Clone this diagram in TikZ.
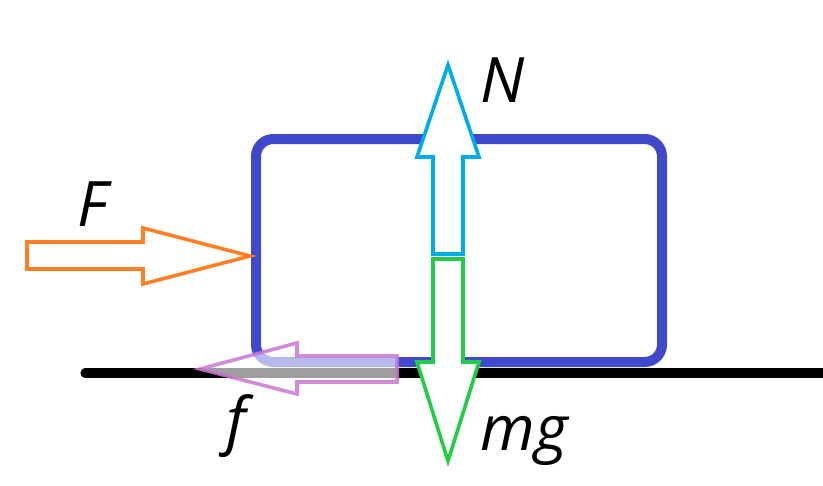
\documentclass[tikz,border=0pt]{standalone}
\usepackage{fontspec}
\setmainfont{Open Sans}
\begin{document}
\begin{tikzpicture}[x=0.75pt,y=-0.75pt,
  boxblue/.style={draw=blockblue,line width=7.5pt,rounded corners=13pt},
  ground/.style={draw=black,line width=6.8pt,line cap=round},
  forcearrow/.style={line width=2.7pt,line join=miter,fill=white},
  lbl/.style={font=\fontsize{47}{50}\selectfont\itshape,anchor=base,inner sep=0pt}]
\definecolor{blockblue}{RGB}{64,72,204}
\definecolor{forange}{RGB}{255,128,36}
\definecolor{ncyan}{RGB}{0,170,238}
\definecolor{mggreen}{RGB}{34,204,68}
\definecolor{fpink}{RGB}{204,119,208}
\useasboundingbox (0,0) rectangle (823,485);
% ground
\draw[ground] (85,373) -- (830,373);
% block
\draw[boxblue] (256,139) rectangle (662,362);
% F arrow
\draw[forcearrow,draw=forange] (27,242) -- (143,242) -- (143,228) -- (250,256) -- (143,284) -- (143,269) -- (27,269) -- cycle;
% N arrow
\draw[forcearrow,draw=ncyan] (433,254) -- (433,157) -- (417,157) -- (448,65) -- (479,157) -- (463,157) -- (463,254) -- cycle;
% mg arrow
\draw[forcearrow,draw=mggreen] (433,259) -- (463,259) -- (463,362) -- (479,362) -- (448,461) -- (417,362) -- (433,362) -- cycle;
% f arrow
\draw[forcearrow,draw=fpink,draw opacity=0.85,fill opacity=0.62] (397,356) -- (297,356) -- (297,343) -- (200,369) -- (297,394) -- (297,382) -- (397,382) -- cycle;
% labels
\node[lbl] (lN) at (503,102) {N};
\node[lbl] (lF) at (92,226) {F};
\node[lbl] (lf) at (236,442) {f};
\node[lbl] (lmg) at (524,450) {mg};
\end{tikzpicture}
\end{document}
